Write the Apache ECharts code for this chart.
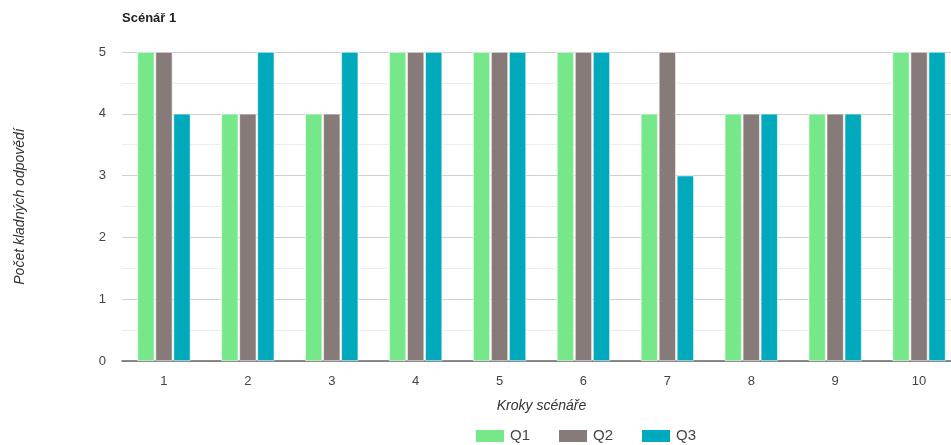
<!DOCTYPE html>
<html>
<head>
<meta charset="utf-8">
<script src="https://cdn.jsdelivr.net/npm/echarts@6/dist/echarts.min.js"></script>
<style>
  html, body { margin: 0; padding: 0; background: #fff; overflow: hidden; width: 951px; height: 445px; }
  /* the plot runs a little past the right edge of the visible page */
  #chart { width: 961px; height: 445px; }
</style>
</head>
<body>
<div id="chart"></div>
<script>
// Scenario steps and number of positive answers per question
const steps = ['1', '2', '3', '4', '5', '6', '7', '8', '9', '10'];
const q1 = [5, 4, 4, 5, 5, 5, 4, 4, 4, 5];
const q2 = [5, 4, 4, 5, 5, 5, 5, 4, 4, 5];
const q3 = [4, 5, 5, 5, 5, 5, 3, 4, 4, 5];
const seriesNames = ['Q1', 'Q2', 'Q3'];
const yTicks = [0, 1, 2, 3, 4, 5];

const colors = ['#76E889', '#877B79', '#00AABC'];
const font = '"Liberation Sans", Arial, sans-serif';

const chart = echarts.init(document.getElementById('chart'), null, { renderer: 'canvas' });

const makeSeries = (name, data, color) => ({
  name: name,
  type: 'bar',
  data: data,
  barWidth: 17,
  barGap: '6%',
  itemStyle: { color: color, borderColor: '#ffffff', borderWidth: 0.6 }
});

chart.setOption({
  animation: false,
  color: colors,
  title: {
    text: 'Scénář 1',
    left: 122,
    top: 12,
    padding: 0,
    textStyle: { fontFamily: font, fontSize: 13, fontWeight: 'bold', color: '#222' }
  },
  legend: {
    data: seriesNames,
    bottom: 1,
    left: 474,
    padding: 0,
    itemWidth: 30,
    itemHeight: 14,
    itemGap: 27,
    icon: 'rect',
    textStyle: { fontFamily: font, fontSize: 15, color: '#444' }
  },
  grid: { left: 122, right: 0, top: 52, bottom: 84 },
  xAxis: {
    type: 'category',
    data: steps,
    name: 'Kroky scénáře',
    nameLocation: 'middle',
    nameGap: 38,
    nameTextStyle: { fontFamily: font, fontSize: 14, fontStyle: 'italic', color: '#333' },
    axisLine: { lineStyle: { color: '#666', width: 1.5 } },
    axisTick: { show: false },
    axisLabel: { fontFamily: font, fontSize: 13, color: '#444', margin: 14 }
  },
  yAxis: {
    type: 'value',
    min: yTicks[0],
    max: yTicks[yTicks.length - 1],
    interval: 1,
    name: 'Počet kladných odpovědí',
    nameLocation: 'middle',
    nameGap: 95,
    nameTextStyle: { fontFamily: font, fontSize: 14, fontStyle: 'italic', color: '#333' },
    axisLine: { show: false },
    axisTick: { show: false },
    axisLabel: { fontFamily: font, fontSize: 13, color: '#444', margin: 16 },
    splitLine: { lineStyle: { color: '#d0d0d0', width: 1 } },
    minorTick: { show: false, splitNumber: 2 },
    minorSplitLine: { show: true, lineStyle: { color: '#ececec', width: 1 } }
  },
  series: [
    makeSeries(seriesNames[0], q1, colors[0]),
    makeSeries(seriesNames[1], q2, colors[1]),
    makeSeries(seriesNames[2], q3, colors[2])
  ]
});
</script>
</body>
</html>
